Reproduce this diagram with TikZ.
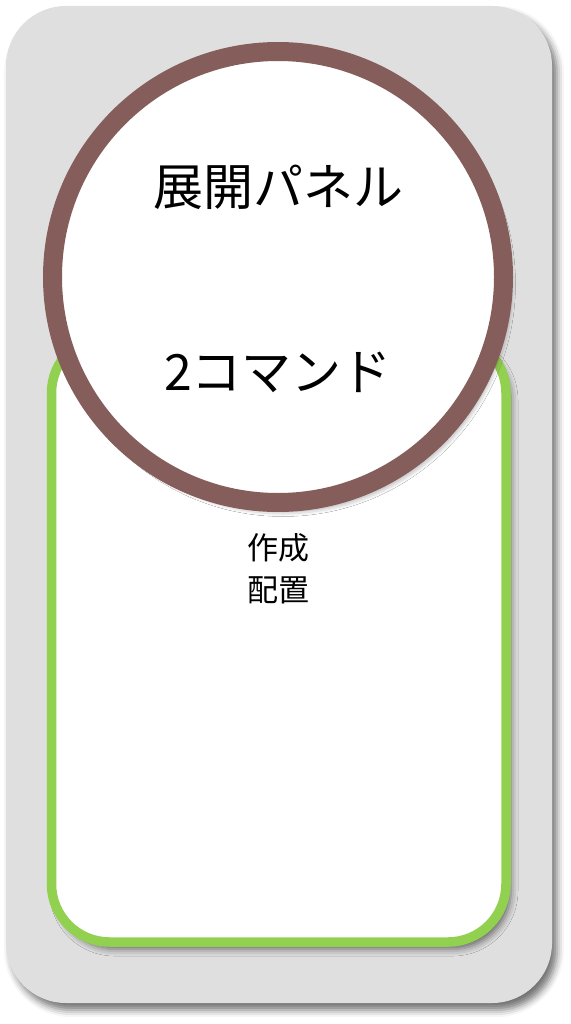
\documentclass[tikz,border=0pt]{standalone}
\usepackage{fontspec}
\newfontfamily\cjk{Noto Sans CJK JP}
\usetikzlibrary{shadows.blur}
\definecolor{bggrey}{HTML}{DFDFDF}
\definecolor{boxgreen}{HTML}{92D050}
\definecolor{ringbrown}{HTML}{855E5C}
\tikzset{
  softshadow/.style={blur shadow={shadow xshift=5pt, shadow yshift=-7pt, shadow blur radius=7pt, shadow opacity=55}},
  bgpanel/.style={fill=bggrey, draw=none, rounded corners=60pt, softshadow},
  greenbox/.style={fill=white, draw=boxgreen, line width=9.5pt, rounded corners=58pt, softshadow},
  ring/.style={circle, fill=white, draw=ringbrown, line width=19pt, minimum size=451pt, inner sep=0pt, softshadow},
  bigtext/.style={font=\cjk\fontsize{50}{58}\selectfont, text=black},
  smalltext/.style={font=\cjk\fontsize{31}{42}\selectfont, text=black, align=center}
}
\begin{document}
\begin{tikzpicture}[x=1pt,y=-1pt]
\useasboundingbox (0,0) rectangle (570,1024);
\path[bgpanel] (6,6) rectangle (552,1003);
\path[greenbox] (51.5,335) rectangle (506,942);
\node[smalltext] (labels) at (278,569) {作成\\配置};
\node[ring] (panel) at (278,277) {};
\node[bigtext] (title) at (278,187) {展開パネル};
\node[bigtext] (count) at (278,372) {2コマンド};
\end{tikzpicture}
\end{document}
